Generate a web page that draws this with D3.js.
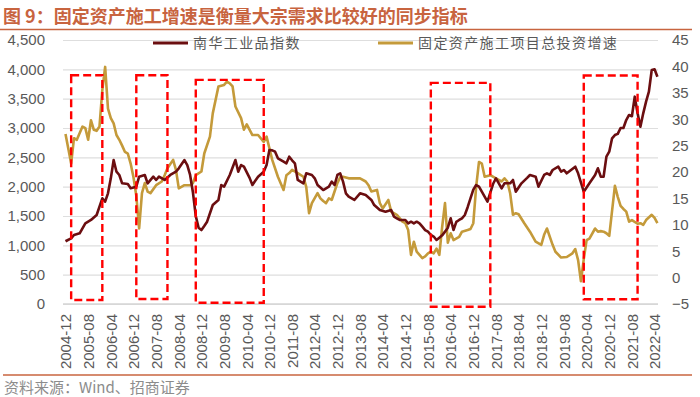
<!DOCTYPE html>
<html>
<head>
<meta charset="utf-8">
<script src="https://cdn.jsdelivr.net/npm/d3@7"></script>
<style>
  body { margin: 0; background: #fff; }
  svg { display: block; }
</style>
</head>
<body>
<svg id="chart"></svg>
<script>
// 南华工业品指数 (left axis)
const nanhuaMonths = [
  "2004-12","2005-02","2005-03","2005-05","2005-07","2005-09","2005-11","2005-12","2006-01","2006-02",
  "2006-03","2006-04","2006-05","2006-06","2006-07","2006-08","2006-10","2006-11","2007-01","2007-02",
  "2007-04","2007-05","2007-07","2007-08","2007-09","2007-11","2008-01","2008-03","2008-04","2008-06",
  "2008-07","2008-08","2008-09","2008-10","2008-11","2008-12","2009-01","2009-02","2009-04","2009-06",
  "2009-07","2009-08","2009-10","2009-12","2010-01","2010-02","2010-03","2010-05","2010-06","2010-07",
  "2010-08","2010-10","2010-11","2010-12","2011-01","2011-02","2011-03","2011-05","2011-06","2011-07",
  "2011-08","2011-09","2011-10","2011-12","2012-01","2012-03","2012-04","2012-05","2012-07","2012-09",
  "2012-10","2012-11","2012-12","2013-01","2013-02","2013-03","2013-04","2013-06","2013-08","2013-10",
  "2013-12","2014-01","2014-03","2014-05","2014-07","2014-08","2014-09","2014-10","2014-12","2015-01",
  "2015-02","2015-03","2015-04","2015-05","2015-06","2015-07","2015-08","2015-09","2015-10","2015-11",
  "2015-12","2016-01","2016-02","2016-03","2016-04","2016-05","2016-06","2016-07","2016-08","2016-09",
  "2016-10","2016-11","2016-12","2017-01","2017-02","2017-03","2017-05","2017-06","2017-07","2017-08",
  "2017-10","2017-11","2018-01","2018-02","2018-03","2018-05","2018-07","2018-08","2018-10","2018-11",
  "2019-01","2019-02","2019-03","2019-04","2019-06","2019-07","2019-08","2019-09","2019-12","2020-01",
  "2020-03","2020-05","2020-07","2020-08","2020-09","2020-10","2020-11","2020-12","2021-01","2021-02",
  "2021-03","2021-04","2021-05","2021-06","2021-07","2021-08","2021-09","2021-10","2021-11","2021-12",
  "2022-01","2022-02","2022-03","2022-04","2022-05"
];
const nanhuaValues = [
  1070,1120,1176,1205,1375,1432,1517,1659,1801,1744,
  1887,2142,2454,2255,2199,2057,2045,1972,2000,2170,
  2199,2057,2170,2114,2170,2114,2199,2255,2313,2454,
  2369,2200,1900,1500,1300,1261,1330,1403,1687,1773,
  2028,2000,2199,2454,2255,2369,2341,2150,2028,2100,
  2170,2255,2369,2625,2620,2596,2483,2426,2398,2511,
  2450,2398,2114,2057,2227,2199,2142,2028,1943,2000,
  2085,2028,2199,2227,2085,1887,1829,1773,1887,1858,
  1773,1687,1602,1573,1602,1488,1460,1432,1432,1375,
  1403,1375,1403,1375,1318,1260,1233,1176,1150,1091,
  1130,1170,1233,1300,1461,1261,1400,1432,1461,1517,
  1650,1800,1950,2028,2000,1915,1744,1900,2050,2142,
  1972,2057,2057,2114,1915,2057,2150,2199,2170,2000,
  2199,2227,2199,2284,2341,2255,2284,2227,2341,2227,
  1915,2057,2199,2313,2170,2170,2511,2596,2824,2880,
  2900,3000,3000,3136,3222,3200,3534,3250,3022,3250,
  3450,3619,3988,4000,3875
];

// 固定资产施工项目总投资增速 (right axis, %)
const investMonths = [
  "2004-12","2005-02","2005-03","2005-04","2005-06","2005-07","2005-08","2005-09","2005-10","2005-11",
  "2005-12","2006-01","2006-02","2006-03","2006-04","2006-05","2006-06","2006-07","2006-08","2006-09",
  "2006-10","2006-11","2006-12","2007-01","2007-02","2007-03","2007-04","2007-05","2007-06","2007-08",
  "2007-10","2007-11","2007-12","2008-02","2008-03","2008-04","2008-06","2008-08","2008-09","2008-10",
  "2008-12","2009-01","2009-03","2009-04","2009-06","2009-08","2009-09","2009-10","2009-11","2009-12",
  "2010-02","2010-03","2010-04","2010-06","2010-08","2010-10","2010-11","2010-12","2011-01","2011-03",
  "2011-05","2011-06","2011-07","2011-08","2011-10","2011-12","2012-01","2012-02","2012-03","2012-05",
  "2012-06","2012-07","2012-08","2012-09","2012-10","2012-11","2012-12","2013-01","2013-02","2013-04",
  "2013-08","2013-10","2013-11","2013-12","2014-02","2014-03","2014-04","2014-06","2014-07","2014-09",
  "2014-11","2014-12","2015-01","2015-02","2015-03","2015-04","2015-05","2015-06","2015-07","2015-08",
  "2015-09","2015-10","2015-11","2015-12","2016-01","2016-02","2016-03","2016-04","2016-05","2016-07",
  "2016-08","2016-10","2016-11","2016-12","2017-01","2017-02","2017-03","2017-04","2017-06","2017-08",
  "2017-10","2017-11","2017-12","2018-01","2018-02","2018-03","2018-04","2018-06","2018-08","2018-10",
  "2018-12","2019-01","2019-02","2019-04","2019-05","2019-07","2019-09","2019-11","2019-12","2020-01",
  "2020-02","2020-03","2020-04","2020-05","2020-07","2020-08","2020-09","2020-10","2020-11","2020-12",
  "2021-02","2021-03","2021-04","2021-05","2021-06","2021-07","2021-08","2021-10","2021-11","2021-12",
  "2022-01","2022-03","2022-04","2022-05"
];
const investValues = [
  27.2,21.6,26.4,26.1,28.6,28.3,26.1,29.8,28.0,27.8,
  28.6,35.5,39.9,32.0,30.2,29.2,27.0,26.1,25.0,23.8,
  23.5,21.6,19.0,15.5,9.3,16.0,17.9,16.3,16.0,17.5,
  18.2,19.4,20.7,22.3,20.4,16.9,17.5,17.5,17.9,19.4,
  20.1,23.5,26.7,31.1,36.2,36.5,37.1,36.8,36.2,32.4,
  30.2,28.0,29.0,27.0,27.0,25.7,26.7,24.5,22.3,19.1,
  16.6,19.4,19.8,20.4,19.8,19.1,17.2,12.2,14.1,16.0,
  15.0,14.5,14.1,15.0,14.7,16.3,17.9,19.0,19.1,18.8,
  18.8,18.2,17.5,16.3,16.6,14.1,13.1,14.7,12.5,11.9,
  10.6,10.3,9.0,4.3,6.8,4.9,4.3,3.7,4.0,4.6,
  4.9,4.6,5.5,4.3,9.6,14.1,6.6,8.4,7.1,7.7,
  8.7,9.0,9.2,10.3,17.2,21.9,21.6,19.1,19.4,18.8,
  18.2,18.8,18.2,16.0,11.9,12.2,12.0,10.3,8.7,6.8,
  6.2,8.1,9.3,6.2,4.9,3.8,3.9,4.6,5.4,3.3,
  -0.7,3.5,7.1,7.4,9.3,8.7,8.8,8.7,8.4,7.9,
  17.4,15.3,13.6,13.0,12.5,10.6,10.9,10.2,10.3,10.0,
  10.9,11.9,11.3,10.3
];

const xTickLabels = [
  "2004-12","2005-08","2006-04","2006-12","2007-08","2008-04","2008-12","2009-08","2010-04",
  "2010-12","2011-08","2012-04","2012-12","2013-08","2014-04","2014-12","2015-08","2016-04",
  "2016-12","2017-08","2018-04","2018-12","2019-08","2020-04","2020-12","2021-08","2022-04"
];
const leftTicks = [0, 500, 1000, 1500, 2000, 2500, 3000, 3500, 4000, 4500];
const rightTicks = [-5, 0, 5, 10, 15, 20, 25, 30, 35, 40, 45];

// highlighted periods (red dashed boxes), in left-axis units
const boxStart = ["2005-02", "2007-01", "2008-10", "2015-09", "2020-03"];
const boxEnd = ["2006-01", "2007-12", "2010-10", "2017-06", "2021-10"];
const boxTop = [3900, 3900, 3820, 3770, 3895];
const boxBottom = [68, 85, 22, -46, 80];

const seriesNames = ["南华工业品指数", "固定资产施工项目总投资增速"];
const seriesColors = ["#6b0e10", "#c49a3a"];

const width = 700, height = 397;
const plot = { left: 63, right: 658, top: 40, bottom: 304 };

const firstMonth = nanhuaMonths[0];
function monthIndex(s) {
  const [y, m] = s.split("-").map(Number);
  const [y0, m0] = firstMonth.split("-").map(Number);
  return (y - y0) * 12 + (m - m0);
}
const lastIndex = monthIndex(nanhuaMonths[nanhuaMonths.length - 1]);

const svg = d3.select("#chart").attr("width", width).attr("height", height);

const x = d3.scaleLinear().domain([0, lastIndex]).range([65.5, 657.4]);
const yLeft = d3.scaleLinear().domain([0, 4500]).range([plot.bottom, plot.top]);
const yRight = d3.scaleLinear().domain([-5, 45]).range([plot.bottom, plot.top]);

const font = "'Liberation Sans', Arial, sans-serif";
const cjk = "'Noto Sans CJK SC', sans-serif";
const accent = "#c8643f";

// title
svg.append("text")
  .attr("x", 3).attr("y", 23)
  .attr("fill", accent)
  .style("font-family", cjk)
  .style("font-size", "18px")
  .style("font-weight", "bold")
  .text("图 9：固定资产施工增速是衡量大宗需求比较好的同步指标");

svg.append("line")
  .attr("x1", 0).attr("x2", 692).attr("y1", 29.5).attr("y2", 29.5)
  .attr("stroke", accent).attr("stroke-width", 1.5);

// left axis + gridlines
const gLeft = svg.append("g")
  .attr("transform", `translate(${plot.left},0)`)
  .call(d3.axisLeft(yLeft).tickValues(leftTicks).tickSize(-(plot.right - plot.left)).tickPadding(18).tickFormat(d3.format(",")));
gLeft.select(".domain").remove();
gLeft.selectAll(".tick line").attr("stroke", "#dedede").attr("stroke-width", 1.2);
gLeft.selectAll(".tick text")
  .attr("fill", "#595959")
  .style("font-family", font)
  .style("font-size", "15px");

// right axis
const gRight = svg.append("g")
  .attr("transform", `translate(${plot.right},0)`)
  .call(d3.axisRight(yRight).tickValues(rightTicks).tickSize(0).tickPadding(14));
gRight.select(".domain").remove();
gRight.selectAll(".tick text")
  .attr("fill", "#595959")
  .style("font-family", font)
  .style("font-size", "15px");

// bottom axis
const gBottom = svg.append("g")
  .attr("transform", `translate(0,${plot.bottom})`)
  .call(d3.axisBottom(x).tickValues(xTickLabels.map(monthIndex)).tickSize(0)
    .tickFormat((d, i) => xTickLabels[i]));
gBottom.select(".domain").remove();
gBottom.append("line")
  .attr("x1", plot.left).attr("x2", plot.right)
  .attr("stroke", "#d4d4d4").attr("stroke-width", 1.5);
gBottom.selectAll(".tick text")
  .attr("fill", "#595959")
  .style("font-family", font)
  .style("font-size", "15px")
  .attr("text-anchor", "end")
  .attr("transform", "rotate(-90)")
  .attr("x", -10).attr("y", 0).attr("dy", "0.35em");

// lines
const lineLeft = d3.line()
  .x(d => x(monthIndex(d[0])))
  .y(d => yLeft(d[1]));
const lineRight = d3.line()
  .x(d => x(monthIndex(d[0])))
  .y(d => yRight(d[1]));

svg.append("path")
  .datum(d3.zip(investMonths, investValues))
  .attr("fill", "none")
  .attr("stroke", seriesColors[1])
  .attr("stroke-width", 2.6)
  .attr("stroke-linejoin", "round")
  .attr("d", lineRight);

svg.append("path")
  .datum(d3.zip(nanhuaMonths, nanhuaValues))
  .attr("fill", "none")
  .attr("stroke", seriesColors[0])
  .attr("stroke-width", 2.6)
  .attr("stroke-linejoin", "round")
  .attr("d", lineLeft);

// dashed boxes
svg.append("g").selectAll("rect")
  .data(d3.range(boxStart.length))
  .join("rect")
  .attr("x", i => x(monthIndex(boxStart[i])))
  .attr("y", i => yLeft(boxTop[i]))
  .attr("width", i => x(monthIndex(boxEnd[i])) - x(monthIndex(boxStart[i])))
  .attr("height", i => yLeft(boxBottom[i]) - yLeft(boxTop[i]))
  .attr("fill", "none")
  .attr("stroke", "#ff0000")
  .attr("stroke-width", 2.4)
  .attr("stroke-dasharray", "8,4");

// legend
const legendX = [153, 378];
const legend = svg.append("g").selectAll("g")
  .data(seriesNames)
  .join("g")
  .attr("transform", (d, i) => `translate(${legendX[i]},43)`);
legend.append("line")
  .attr("x1", 0).attr("x2", 35)
  .attr("stroke", (d, i) => seriesColors[i])
  .attr("stroke-width", 3);
legend.append("text")
  .attr("x", 40).attr("dy", "0.35em")
  .attr("fill", "#595959")
  .style("font-family", cjk)
  .style("font-size", "14px")
  .style("letter-spacing", "1.4px")
  .text(d => d);

// source
svg.append("line")
  .attr("x1", 3).attr("x2", 692).attr("y1", 375).attr("y2", 375)
  .attr("stroke", accent).attr("stroke-width", 1.5);
svg.append("text")
  .attr("x", 4).attr("y", 393)
  .attr("fill", "#8c8c8c")
  .style("font-family", cjk)
  .style("font-size", "15px")
  .text("资料来源：Wind、招商证券");
</script>
</body>
</html>
